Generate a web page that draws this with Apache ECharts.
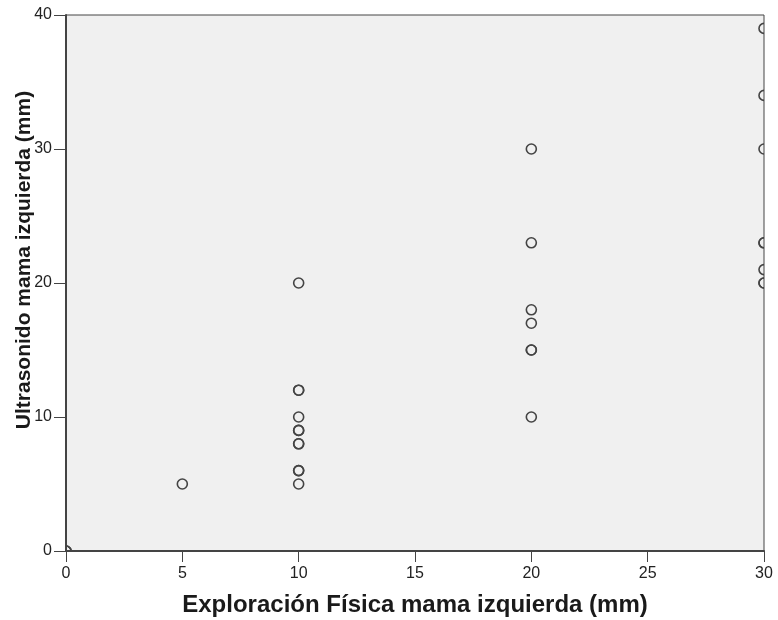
<!DOCTYPE html>
<html><head><meta charset="utf-8">
<script src="https://cdn.jsdelivr.net/npm/echarts@6/dist/echarts.min.js"></script>
<style>html,body{margin:0;padding:0;background:#fff}#c{width:778px;height:620px}</style>
</head><body><div id="c"></div>
<script>
const xTicks = [0, 5, 10, 15, 20, 25, 30];
const yTicks = [0, 10, 20, 30, 40];
const exploracion = [0,0,0,5,10,10,10,10,10,10,10,10,10,10,10,20,20,20,20,20,20,20,30,30,30,30,30,30,30,30];
const ultrasonido = [0,0,0,5,20,12,12,10,9,8,8,6,6,5,9,30,23,18,17,15,15,10,39,34,30,23,23,21,20,20];
const points = exploracion.map((x, i) => [x, ultrasonido[i]]);
const chart = echarts.init(document.getElementById('c'), null, {renderer: 'canvas'});
const font = 'Arial, "Liberation Sans", sans-serif';
chart.setOption({
  animation: false,
  grid: {left: 66, top: 15, right: 14, bottom: 69, outerBoundsMode: 'none', containLabel: false,
    show: true, backgroundColor: '#F0F0F0', borderColor: '#444', borderWidth: 1},
  xAxis: {
    type: 'value', min: xTicks[0], max: xTicks[xTicks.length-1], interval: 5,
    name: 'Exploración Física mama izquierda (mm)', nameLocation: 'middle', nameGap: 42, nameMoveOverlap: false,
    nameTextStyle: {fontFamily: font, fontSize: 24, fontWeight: 'bold', color: '#1a1a1a'},
    axisLine: {show: true, lineStyle: {color: '#444', width: 2}},
    axisTick: {show: true, length: 11, lineStyle: {color: '#444'}},
    axisLabel: {fontFamily: font, fontSize: 16, color: '#222', margin: 15},
    splitLine: {show: false}
  },
  yAxis: {
    type: 'value', min: yTicks[0], max: yTicks[yTicks.length-1], interval: 10,
    name: 'Ultrasonido mama izquierda (mm)', nameLocation: 'middle', nameGap: 31, nameMoveOverlap: false,
    nameTextStyle: {fontFamily: font, fontSize: 21, fontWeight: 'bold', color: '#1a1a1a', padding: [0, 0, 0, 46]},
    axisLine: {show: true, lineStyle: {color: '#444', width: 2}},
    axisTick: {show: true, length: 12, lineStyle: {color: '#444'}},
    axisLabel: {fontFamily: font, fontSize: 16, color: '#222', margin: 14},
    splitLine: {show: false}
  },
  series: [{
    type: 'custom', data: points, clip: true, z: 3,
    renderItem: function (params, api) {
      const p = api.coord([api.value(0), api.value(1)]);
      return {type: 'circle', shape: {cx: p[0], cy: p[1], r: 5},
        style: {fill: 'none', stroke: '#444', lineWidth: 1.6}};
    }
  }]
});
</script></body></html>
